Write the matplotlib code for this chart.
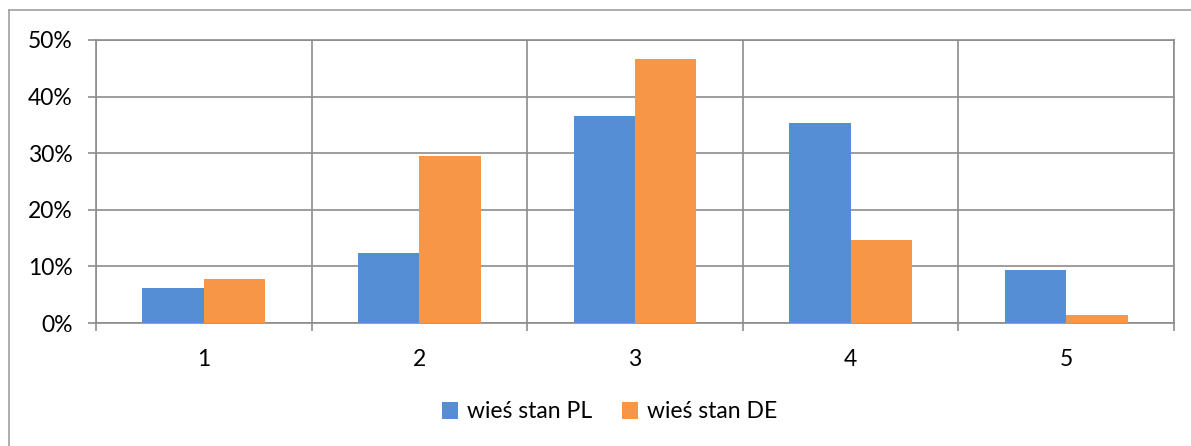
import matplotlib.pyplot as plt
import numpy as np
from matplotlib.lines import Line2D

plt.rcParams['font.family'] = ['Lato', 'DejaVu Sans']

categories = ['1', '2', '3', '4', '5']
pl_values = [6.2, 12.4, 36.6, 35.3, 9.4]
de_values = [7.8, 29.5, 46.6, 14.7, 1.4]
series_names = ['wieś stan PL', 'wieś stan DE']

blue = '#558ED5'
orange = '#F79646'
grid_col = '#8C8C8C'
fs = 16.5

fig = plt.figure(figsize=(11.91, 4.46), dpi=100)
ax = fig.add_axes([96 / 1191, 1 - 323 / 446, (1174 - 96) / 1191, (323 - 40) / 446])

x = np.arange(1, len(categories) + 1)
w = 0.285
ax.bar(x - w / 2, pl_values, w, color=blue, label=series_names[0], zorder=3)
ax.bar(x + w / 2, de_values, w, color=orange, label=series_names[1], zorder=3)

ax.set_xlim(0.5, len(categories) + 0.5)
ax.set_ylim(0, 50)
ax.set_yticks(np.arange(0, 51, 10))
ax.set_yticklabels([f'{v}%' for v in range(0, 51, 10)])

# boundaries as major ticks, labels as minor ticks
ax.set_xticks(np.arange(0.5, len(categories) + 1, 1))
ax.set_xticklabels([])
ax.set_xticks(x, minor=True)
ax.set_xticklabels(categories, minor=True)

ax.tick_params(axis='x', which='major', length=6, width=1.2, color=grid_col)
ax.tick_params(axis='x', which='minor', length=0, pad=19, labelsize=fs)
ax.tick_params(axis='y', length=6, width=1.2, color=grid_col, pad=11, labelsize=fs)

ax.grid(True, which='major', color=grid_col, lw=1.2, zorder=0)
ax.set_axisbelow(True)
for s in ax.spines.values():
    s.set_color(grid_col)
    s.set_linewidth(1.2)

# outer chart border (cropped)
fig.add_artist(Line2D([8.5 / 1191, 8.5 / 1191], [0, 1 - 10 / 446], transform=fig.transFigure,
                      color='#A0A0A0', lw=1.2))
fig.add_artist(Line2D([8.5 / 1191, 1], [1 - 10 / 446, 1 - 10 / 446], transform=fig.transFigure,
                      color='#A0A0A0', lw=1.2))

fig.legend(loc='center', bbox_to_anchor=(0.512, 1 - 412 / 446), ncol=2, frameon=False,
           fontsize=fs, handlelength=0.7, handleheight=0.7, handletextpad=0.4,
           columnspacing=1.3)

fig.savefig('out.png', dpi=100)
